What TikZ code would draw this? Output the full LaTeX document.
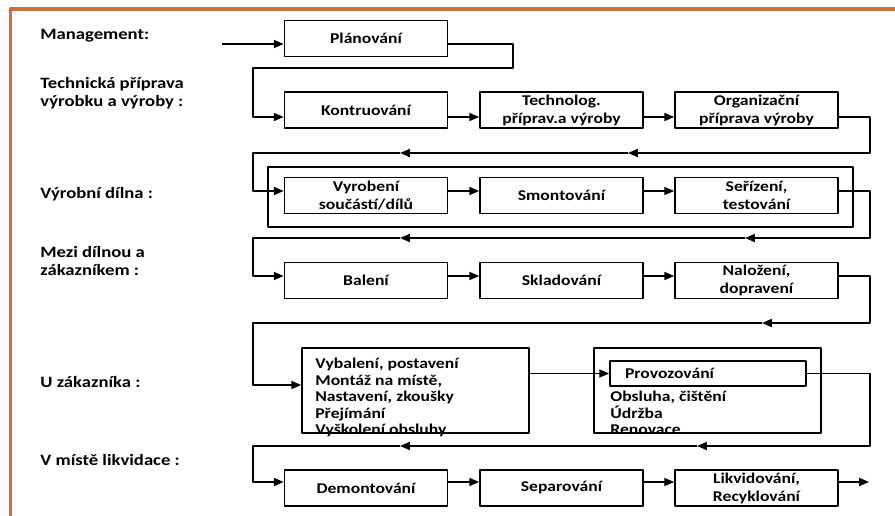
\documentclass[tikz,border=0pt]{standalone}
\usepackage{fontspec}
\setmainfont{Carlito}[FakeStretch=1.18]
\usetikzlibrary{arrows.meta}
\definecolor{ramec}{RGB}{204,112,62}

\begin{document}
\begin{tikzpicture}[line join=round,>={Triangle[length=5.6pt,width=4.6pt]},x=0.02cm,y=-0.02cm,
    krok/.style={draw,line width=1pt,minimum width=3.26cm,minimum height=0.72cm,inner sep=1pt,align=center,font=\fontsize{8.5}{10.2}\selectfont\bfseries},
    krok2/.style={krok,execute at begin node={\rule{0pt}{10pt}}},
    velky/.style={draw,line width=1pt,minimum width=4.54cm,minimum height=1.7cm,inner sep=0pt},
    popis/.style={anchor=base west,inner sep=0pt,align=left,font=\fontsize{9}{10.3}\selectfont\bfseries},
    seznam/.style={anchor=north west,inner sep=0pt,align=left,font=\fontsize{8.5}{9.4}\selectfont\bfseries},
    spoj/.style={line width=0.8pt}]
        \useasboundingbox (0,0) rectangle (895,516);
        \draw [ramec,line width=2pt] (10.5,516) -- (10.5,9) -- (895,9);
        % popisky vlevo
        \node [popis] (lman) at (40,40) {Management:};
        \node [popis] (ltech) at (40,107) {Technická příprava\\výrobku a výroby :};
        \node [popis] (ldil) at (40,199) {Výrobní dílna :};
        \node [popis] (lmezi) at (40,276) {Mezi dílnou a\\zákazníkem :};
        \node [popis] (lzak) at (40,388) {U zákazníka :};
        \node [popis] (llik) at (40,465) {V místě likvidace :};
        % kroky
        \node [krok] (plan) at (366,38.5) {Plánování};
        \node [krok] (kontr) at (366,110) {Kontruování};
        \node [krok2] (techn) at (561.5,110) {Technolog.\\příprav.a výroby};
        \node [krok2] (org) at (756.5,110) {Organizační\\příprava výroby};
        \draw [line width=1pt] (268,167) rectangle (853,227);
        \node [krok2] (vyrob) at (366,195.5) {Vyrobení\\součástí/dílů};
        \node [krok] (smont) at (561.5,195.5) {Smontování};
        \node [krok2] (seriz) at (756.5,195.5) {Seřízení,\\testování};
        \node [krok] (balen) at (366,280.5) {Balení};
        \node [krok] (sklad) at (561.5,280.5) {Skladování};
        \node [krok2] (nalo) at (756.5,280.5) {Naložení,\\dopravení};
        \node [velky] (vybal) at (415.5,390.5) {};
        \node [seznam] (vybaltext) at (315,358) {Vybalení, postavení\\Montáž na místě,\\Nastavení, zkoušky\\Přejímání\\Vyškolení obsluhy};
        \node [velky] (provozram) at (707.5,390.5) {};
        \node [draw,line width=1pt,minimum width=3.92cm,minimum height=0.5cm,inner xsep=0.3cm,inner ysep=0pt,text width=3.32cm,align=left,font=\fontsize{8.5}{10.2}\selectfont\bfseries] (provoz) at (708,373.5) {Provozování};
        \node [seznam] (provoztext) at (610,391) {Obsluha, čištění\\Údržba\\Renovace};
        \node [krok] (demont) at (366,488) {Demontování};
        \node [krok] (separ) at (561.5,488) {Separování};
        \node [krok2] (likvid) at (756.5,488) {Likvidování,\\Recyklování};
        % radky sipek
        \coordinate (r1) at (0,44);
        \coordinate (r2) at (0,117);
        \coordinate (r3) at (0,191);
        \coordinate (r4) at (0,276);
        \coordinate (r6) at (0,482);
        \coordinate (start) at (222,44);
        \coordinate (ob1) at (513,68);
        \coordinate (ol1) at (253,68);
        \coordinate (ob2) at (870,153);
        \coordinate (m2a) at (628,153);
        \coordinate (m2b) at (400,153);
        \coordinate (ol2) at (253,153);
        \coordinate (ob3) at (870,238);
        \coordinate (m3a) at (745,238);
        \coordinate (m3b) at (400,238);
        \coordinate (ol3) at (253,238);
        \coordinate (ob4) at (870,323);
        \coordinate (m4a) at (762,323);
        \coordinate (ol4) at (253,323);
        \coordinate (r5) at (0,385);
        \coordinate (ob5) at (870,446);
        \coordinate (m5a) at (697,446);
        \coordinate (m5b) at (400,446);
        \coordinate (ol5) at (253,446);
        \coordinate (konec) at (869,482);
        % spoje
        \draw [spoj,->] (start) -- (plan.west |- r1);
        \draw [spoj,->] (plan.east |- r1) -| (ob1) -- (ol1) |- (kontr.west |- r2);
        \draw [spoj,->] (kontr.east |- r2) -- (techn.west |- r2);
        \draw [spoj,->] (techn.east |- r2) -- (org.west |- r2);
        \draw [spoj,->] (org.east |- r2) -| (ob2) -- (m2a);
        \draw [spoj,->] (m2a) -- (m2b);
        \draw [spoj,->] (m2b) -- (ol2) |- (vyrob.west |- r3);
        \draw [spoj,->] (vyrob.east |- r3) -- (smont.west |- r3);
        \draw [spoj,->] (smont.east |- r3) -- (seriz.west |- r3);
        \draw [spoj,->] (seriz.east |- r3) -| (ob3) -- (m3a);
        \draw [spoj,->] (m3a) -- (m3b);
        \draw [spoj,->] (m3b) -- (ol3) |- (balen.west |- r4);
        \draw [spoj,->] (balen.east |- r4) -- (sklad.west |- r4);
        \draw [spoj,->] (sklad.east |- r4) -- (nalo.west |- r4);
        \draw [spoj,->] (nalo.east |- r4) -| (ob4) -- (m4a);
        \draw [spoj,->] (m4a) -- (ol4) |- (vybal.west |- r5);
        \draw [spoj,->] (vybal.east |- provoz.west) -- (provoz.west);
        \draw [spoj,->] (provoz.east) -| (ob5) -- (m5a);
        \draw [spoj,->] (m5a) -- (m5b);
        \draw [spoj,->] (m5b) -- (ol5) |- (demont.west |- r6);
        \draw [spoj,->] (demont.east |- r6) -- (separ.west |- r6);
        \draw [spoj,->] (separ.east |- r6) -- (likvid.west |- r6);
        \draw [spoj,->] (likvid.east |- r6) -- (konec);
\end{tikzpicture}
\end{document}
